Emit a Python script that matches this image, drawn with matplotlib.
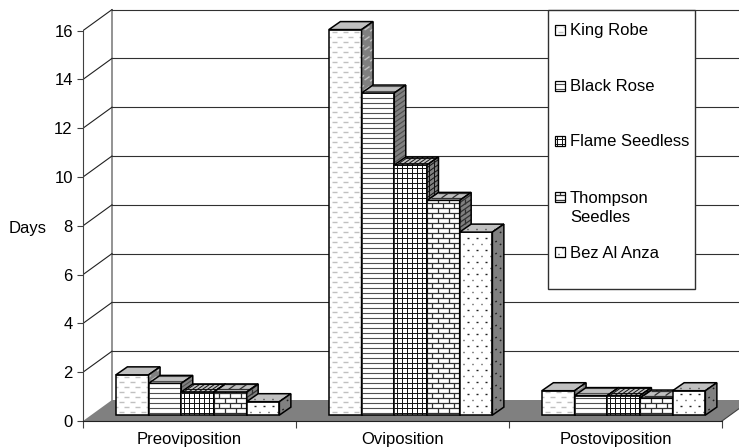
import numpy as np
import matplotlib
matplotlib.use('Agg')
import matplotlib.pyplot as plt
from matplotlib.patches import Polygon, Rectangle
from matplotlib.collections import LineCollection

plt.rcParams['font.family'] = ['Liberation Sans', 'DejaVu Sans']
plt.rcParams['font.size'] = 12

categories = ['Preoviposition', 'Oviposition', 'Postoviposition']
series_names = ['King Robe', 'Black Rose', 'Flame Seedless', 'Thompson\nSeedles', 'Bez Al Anza']
king_robe = [1.65, 15.8, 1.0]
black_rose = [1.3, 13.2, 0.8]
flame_seedless = [0.95, 10.25, 0.8]
thompson_seedles = [0.95, 8.8, 0.7]
bez_al_anza = [0.55, 7.5, 1.0]
y_ticks = [0, 2, 4, 6, 8, 10, 12, 14, 16]

W, H = 739, 447
PX, PY = 213.0, 24.4   # pixels per category, pixels per day
WALL_X, WALL_Y = 29 / PX, 21 / PY   # depth of the floor
BAR_W = 32.7 / PX
GAP = (1 - 5 * BAR_W) / 2
kinds = ['dash', 'hline', 'grid', 'brick', 'dot']


def pattern(kind, w, h):
    # pattern segments in pixels inside a w x h face
    segs = []
    if kind == 'dash':
        for r, t in enumerate(np.arange(3, h, 5)):
            start = -5.5 if r % 2 else 0
            for s in np.arange(start + 3, w, 11):
                segs.append(((s, t), (s + 5, t)))
    elif kind == 'hline':
        for t in np.arange(2.5, h, 5):
            segs.append(((0, t), (w, t)))
    elif kind == 'grid':
        for t in np.arange(2.5, h, 5):
            segs.append(((0, t), (w, t)))
        for s in np.arange(2.5, w, 5):
            segs.append(((s, 0), (s, h)))
    elif kind == 'brick':
        for r, t in enumerate(np.arange(2.5, h + 5, 5)):
            segs.append(((0, t), (w, t)))
            start = 5.5 if r % 2 else 0
            for s in np.arange(start, w, 11):
                segs.append(((s, t), (s, t + 5)))
    elif kind == 'dot':
        for r, t in enumerate(np.arange(3, h, 6)):
            start = 4.5 if r % 2 else 0
            for s in np.arange(start + 3, w, 9):
                segs.append(((s, t), (s + 1.4, t)))
    return segs


STYLE = {'dash': ('#c0c0c0', 1.0), 'hline': ('#505050', 0.8), 'grid': ('#101010', 0.7),
         'brick': ('#303030', 0.9), 'dot': ('#202020', 1.0)}


def draw_face(ax, o, u, v, w, h, fc, kind, z, lw=1.1):
    o, u, v = np.array(o), np.array(u), np.array(v)
    corners = [o, o + u * w, o + u * w + v * h, o + v * h]
    poly = Polygon(corners, closed=True, fc=fc, ec='none', zorder=z)
    ax.add_patch(poly)
    segs = [[o + u * a[0] + v * a[1], o + u * b[0] + v * b[1]] for a, b in pattern(kind, w, h)]
    col, lwid = STYLE[kind]
    lc = LineCollection(segs, colors=col, linewidths=lwid, zorder=z)
    ax.add_collection(lc, autolim=False)
    lc.set_clip_path(poly)
    ax.add_patch(Polygon(corners, closed=True, fill=False, ec='black', lw=lw, zorder=z))


fig = plt.figure(figsize=(W / 100, H / 100), dpi=100)
ax = fig.add_axes([83 / W, (H - 421) / H, (W - 83) / W, 421 / H])
ax.set_xlim(0, (W - 83) / PX)
ax.set_ylim(0, 421 / PY)

# floor and walls
ax.add_patch(Polygon([(0, 0), (3, 0), (3 + WALL_X, WALL_Y), (WALL_X, WALL_Y)],
                     closed=True, fc='#808080', ec='none', zorder=1))
ax.plot([WALL_X, WALL_X], [WALL_Y, 16 + WALL_Y], color='#808080', lw=1.2, zorder=1)
for v in y_ticks[1:]:
    ax.plot([0, WALL_X], [v, v + WALL_Y], color='#202020', lw=0.8, zorder=1)
    ax.plot([WALL_X, 4], [v + WALL_Y, v + WALL_Y], color='#303030', lw=0.8, zorder=1)
ax.plot([3, 3 + WALL_X], [0, WALL_Y], color='#404040', lw=0.8, zorder=1)

# bars
all_series = [king_robe, black_rose, flame_seedless, thompson_seedles, bez_al_anza]
front_x, front_y = WALL_X * 0.28, WALL_Y * 0.28
dep_x, dep_y = 11.5 / PX, 8 / PY
z = 2
for c in range(len(categories)):
    for s, vals in enumerate(all_series):
        x0 = c + GAP + front_x + s * BAR_W
        top = vals[c] + front_y
        hpx = vals[c] * PY
        draw_face(ax, (x0, front_y), (1 / PX, 0), (0, 1 / PY), BAR_W * PX, hpx, 'white', kinds[s], z)
        draw_face(ax, (x0, top), (1 / PX, 0), (dep_x / 8, dep_y / 8), BAR_W * PX, 8, '#c0c0c0', kinds[s], z)
        draw_face(ax, (x0 + BAR_W, front_y), (dep_x / 11.5, dep_y / 11.5), (0, 1 / PY), 11.5, hpx, '#808080', kinds[s], z)
        z += 1

for side in ['top', 'right']:
    ax.spines[side].set_visible(False)
ax.spines['left'].set_bounds(0, 16)
ax.spines['bottom'].set_bounds(0, 3)
ax.spines['left'].set_color('#404040')
ax.spines['bottom'].set_color('#202020')
ax.spines['left'].set_zorder(60)
ax.spines['bottom'].set_zorder(60)

ax.set_yticks(y_ticks)
ax.tick_params(axis='y', length=4.3, width=0.8, pad=3, color='#404040')
ax.set_xticks([0, 1, 2, 3])
ax.set_xticklabels([])
ax.tick_params(axis='x', which='major', length=5, width=0.8, color='#404040')
ax.set_xticks([0.5, 1.5, 2.5], minor=True)
ax.set_xticklabels(categories, minor=True)
ax.tick_params(axis='x', which='minor', length=0, pad=8)
ax.set_ylabel('Days', rotation=0, ha='center', va='center')
ax.yaxis.set_label_coords((28 - 83) / (W - 83), (421 - 228) / 421)

# legend box, laid out by hand in pixels
leg = fig.add_axes([0, 0, 1, 1], facecolor='none')
leg.set_xlim(0, W)
leg.set_ylim(H, 0)
leg.axis('off')
leg.add_patch(Rectangle((548, 10), 147, 279, fc='white', ec='#303030', lw=1))
legend_base = [35, 91, 146, 222, 258]
swatch_y = [30, 86, 141, 197, 252]
for name, kind, ly, sy in zip(series_names, kinds, legend_base, swatch_y):
    draw_face(leg, (554.5, sy + 5), (1, 0), (0, -1), 10, 10, 'white', kind, 5, lw=0.9)
    leg.text(570, ly, name, va='baseline', ha='left', linespacing=1.32, zorder=6)

fig.savefig('out.png', dpi=100)
